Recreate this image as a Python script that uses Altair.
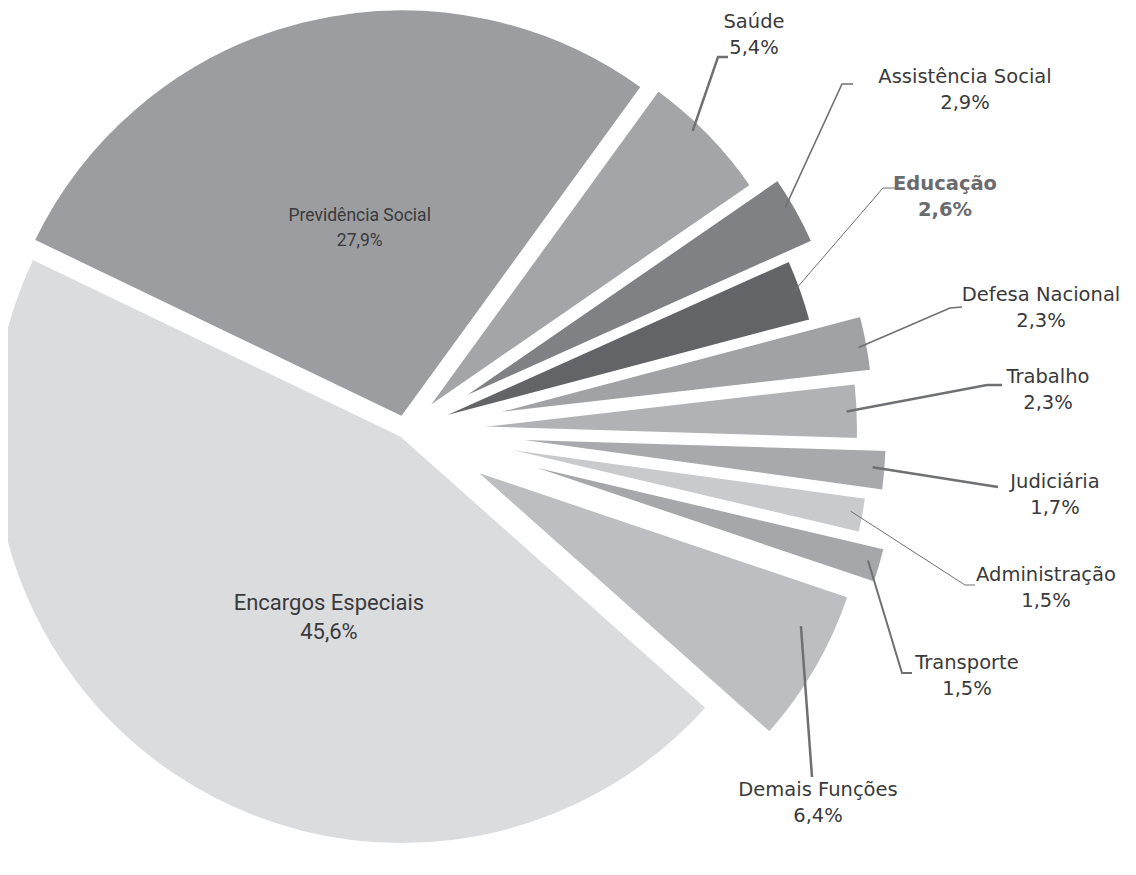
import math
import altair as alt
import pandas as pd

# ---------------- data ----------------
categories = ["Saúde", "Assistência Social", "Educação", "Defesa Nacional", "Trabalho",
              "Judiciária", "Administração", "Transporte", "Demais Funções",
              "Encargos Especiais", "Previdência Social"]
values = [5.4, 2.9, 2.6, 2.3, 2.3, 1.7, 1.5, 1.5, 6.4, 45.6, 27.9]
pct_labels = ["5,4%", "2,9%", "2,6%", "2,3%", "2,3%", "1,7%", "1,5%", "1,5%", "6,4%", "45,6%", "27,9%"]

# ---------------- style ----------------
COLORS = ["#a4a5a8", "#808184", "#636467", "#a1a2a5", "#b1b2b5", "#a8a9ac",
          "#c9cacc", "#a6a7aa", "#bdbec1", "#dbdcde", "#9c9da0"]
EXPLODE = [25, 50, 21, 71, 54, 83, 67, 95, 76, 6, 12]      # px, along bisector
RADIUS = [400, 400, 400, 400, 400, 400, 400, 400, 400, 410, 410]
START_DEG = 36
M = 8                       # page margin
CX, CY = 405 - M, 430 - M   # pie centre (chart coords)
W, H = 1120, 859

# outer labels: name-line centre, leader elbow/end, anchor (fraction of slice angle, inset), width
OUTER = {
    "Saúde":              dict(lab=(754, 22),  pts=[(718, 57), (728, 57)],   frac=0.4, inset=10, sw=2.5),
    "Assistência Social": dict(lab=(965, 77),  pts=[(842, 84), (853, 84)],   frac=0.4, inset=10, sw=1.6),
    "Educação":           dict(lab=(945, 184), pts=[(883, 188), (895, 188)], frac=0.5, inset=10, sw=1.0),
    "Defesa Nacional":    dict(lab=(1041, 295), pts=[(950, 308), (962, 307)], frac=0.55, inset=10, sw=1.6),
    "Trabalho":           dict(lab=(1048, 377), pts=[(987, 385), (1002, 385)], frac=0.5, inset=12, sw=2.5),
    "Judiciária":         dict(lab=(1055, 482), pts=[(998, 487)],            frac=0.45, inset=14, sw=2.5),
    "Administração":      dict(lab=(1046, 575), pts=[(965, 585), (975, 585)], frac=0.45, inset=14, sw=1.0),
    "Transporte":         dict(lab=(967, 663), pts=[(902, 673), (912, 673)], frac=0.45, inset=14, sw=2.0),
    "Demais Funções":     dict(lab=(818, 790), pts=[(812, 777)],             frac=0.3, inset=34, sw=2.5),
}
INNER = {
    "Previdência Social": dict(ang=0.516, rf=0.475, size=17.5, gap=12.5),
    "Encargos Especiais": dict(ang=0.427, rf=0.48, size=22, gap=14.5),
}
FONT_OUT = "DejaVu Sans"
FONT_IN = "Roboto"

total = sum(values)
a0 = math.radians(START_DEG)


def ang(v):
    return a0 + 2 * math.pi * v / total


rows = []
cum = 0.0
geo = {}
for i, (c, v) in enumerate(zip(categories, values)):
    t0, t1 = cum, cum + v
    cum = t1
    mid = ang((t0 + t1) / 2)
    d = EXPLODE[i]
    cx = CX + d * math.sin(mid)
    cy = CY - d * math.cos(mid)
    geo[c] = (t0, t1, cx, cy, RADIUS[i])
    rows.append(dict(cat=c, value=v, t0=t0, t1=t1, cx=cx, cy=cy, r=RADIUS[i]))
arcs_df = pd.DataFrame(rows)

# leader lines and outer labels
lrows = []
trows = []
for c, o in OUTER.items():
    t0, t1, cx, cy, r = geo[c]
    a = ang(t0 + o["frac"] * (t1 - t0))
    ax = cx + (r - o["inset"]) * math.sin(a)
    ay = cy - (r - o["inset"]) * math.cos(a)
    pts = [(ax, ay)] + [(x - M, y - M) for x, y in o["pts"]]
    for k, (x, y) in enumerate(pts):
        lrows.append(dict(cat=c, k=k, x=x, y=y, sw=o["sw"]))
    i = categories.index(c)
    lx, ly = o["lab"][0] - M, o["lab"][1] - M
    trows.append(dict(cat=c, text=c, x=lx, y=ly, bold=(c == "Educação")))
    trows.append(dict(cat=c, text=pct_labels[i], x=lx, y=ly + 26, bold=(c == "Educação")))
lead_df = pd.DataFrame(lrows)
text_df = pd.DataFrame(trows)

irows = []
for c, o in INNER.items():
    t0, t1, cx, cy, r = geo[c]
    a = ang(t0 + o["ang"] * (t1 - t0))
    x = cx + o["rf"] * r * math.sin(a)
    y = cy - o["rf"] * r * math.cos(a)
    i = categories.index(c)
    irows.append(dict(text=c, x=x, y=y - o["gap"], size=o["size"]))
    irows.append(dict(text=pct_labels[i], x=x, y=y + o["gap"], size=o["size"]))
inner_df = pd.DataFrame(irows)

X = lambda f: alt.X(f, type="quantitative", scale=None, axis=None)
Y = lambda f: alt.Y(f, type="quantitative", scale=None, axis=None)

arcs = alt.Chart(arcs_df).mark_arc(stroke="white", strokeWidth=4, strokeJoin="round").encode(
    x=X("cx"), y=Y("cy"),
    theta=alt.Theta("t0:Q", scale=alt.Scale(domain=[0, total], range=[a0, a0 + 2 * math.pi])),
    theta2="t1:Q",
    radius=alt.Radius("r:Q", scale=None),
    color=alt.Color("cat:N", scale=alt.Scale(domain=categories, range=COLORS), legend=None),
)

leaders = alt.Chart(lead_df).mark_line(color="#6f7073", strokeCap="butt").encode(
    x=X("x"), y=Y("y"), detail="cat:N", order="k:Q",
    strokeWidth=alt.StrokeWidth("sw:Q", scale=None),
)

labels = alt.Chart(text_df).transform_filter("!datum.bold").mark_text(
    font=FONT_OUT, fontSize=19.5, color="#3a3a3c", align="center", baseline="middle"
).encode(x=X("x"), y=Y("y"), text="text:N")

labels_bold = alt.Chart(text_df).transform_filter("datum.bold").mark_text(
    font=FONT_OUT, fontSize=19.5, fontWeight="bold", color="#6a6b6e", align="center", baseline="middle"
).encode(x=X("x"), y=Y("y"), text="text:N")

inner = alt.Chart(inner_df).mark_text(
    font=FONT_IN, color="#3a3a3c", align="center", baseline="middle"
).encode(x=X("x"), y=Y("y"), text="text:N", size=alt.Size("size:Q", scale=None))

chart = alt.layer(arcs, leaders, labels, labels_bold, inner).properties(
    width=W, height=H, autosize=alt.AutoSizeParams(type="none"), padding=0,
    background="white",
).configure_view(stroke=None)

chart.save("out.html", embed_options={"renderer": "svg", "actions": False})
